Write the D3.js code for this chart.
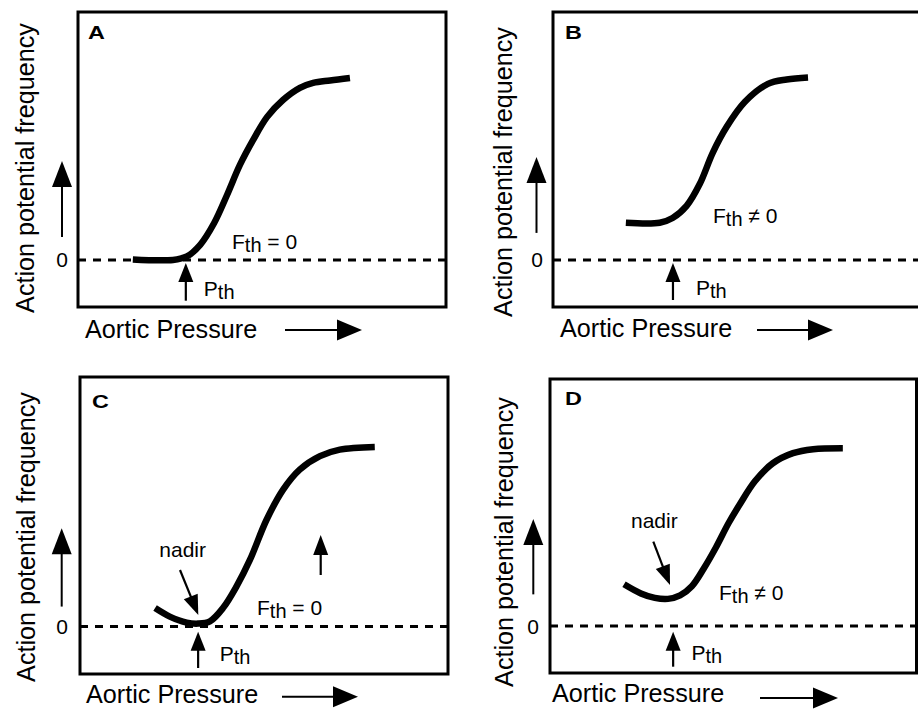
<!DOCTYPE html>
<html><head><meta charset="utf-8">
<script src="https://cdn.jsdelivr.net/npm/d3@7"></script>
<style>
html,body{margin:0;padding:0;background:#fff;}
svg{display:block;font-family:"Liberation Sans",Arial,Helvetica,sans-serif;}
</style></head><body>
<svg id="chart" width="918" height="709"></svg>
<script>
// Baroreceptor firing sketches: normalised aortic pressure (0-100) vs action potential frequency.
const panelLetters = ["A", "B", "C", "D"];

const pressureA  = [14.9, 25.8, 29.6, 33.2, 37.0, 40.5, 44.0, 47.6, 51.4, 55.7, 60.3, 63.9, 68.5, 73.9];
const frequencyA = [0.2, 0.0, 1.4, 6.1, 14.9, 26.2, 38.3, 48.4, 57.7, 64.5, 69.4, 71.4, 72.4, 73.4];

const pressureB  = [19.8, 29.0, 32.5, 36.3, 39.9, 43.4, 47.2, 52.1, 58.4, 63.5, 69.3];
const frequencyB = [15.0, 15.0, 16.9, 21.8, 30.7, 43.2, 53.7, 63.7, 71.0, 72.8, 73.6];

const pressureC  = [20.4, 24.4, 29.0, 32.1, 35.3, 38.9, 42.5, 46.2, 50.7, 55.2, 59.7, 65.2, 70.6, 80.1];
const frequencyC = [7.4, 4.0, 1.6, 1.2, 2.1, 7.5, 16.0, 26.8, 42.8, 54.9, 62.9, 68.3, 70.9, 72.0];

const pressureD  = [20.2, 24.8, 28.6, 32.2, 35.5, 38.7, 42.0, 45.3, 48.7, 51.8, 55.9, 60.8, 66.3, 71.8, 79.9];
const frequencyD = [16.9, 13.2, 11.4, 11.0, 12.4, 16.1, 23.4, 31.9, 41.6, 49.3, 58.6, 65.9, 70.0, 71.6, 72.0];

const thresholdPressure = [29.3, 32.6, 32.1, 33.6];
const thresholdFreqText = ["= 0", "\u2260 0", "= 0", "\u2260 0"];
const yTickLabels = ["0"];
const xAxisTitle = "Aortic Pressure";
const yAxisTitle = "Action potential frequency";
const nadirText = "nadir";

const xDomain = [0, 100];
const yDomain = [-19, 100];

const curves = [
  pressureA.map((p, i) => [p, frequencyA[i]]),
  pressureB.map((p, i) => [p, frequencyB[i]]),
  pressureC.map((p, i) => [p, frequencyC[i]]),
  pressureD.map((p, i) => [p, frequencyD[i]])
];

// Panel frames and annotation placement (pixels)
const layout = [
  { box: [78, 12, 368, 295], letter: [10, 27], ylab: [-44, 156], zero: -16, yArrow: [-16, -99, -23],
    xlab: [7, 31], xArrow: [207, 284, 23], fthPos: [154, 249],
    pth: [18, 296], pthArrow: [263, 300.7], nadir: null, extra: null },
  { box: [553, 12, 368, 295], letter: [12, 27], ylab: [-41, 160], zero: -16, yArrow: [-16.5, -103, -27],
    xlab: [7, 30], xArrow: [204, 280, 23], fthPos: [160, 223],
    pth: [23, 295], pthArrow: [263, 300], nadir: null, extra: null },
  { box: [80, 377, 368, 297], letter: [12, 31], ylab: [-45, 160], zero: -18, yArrow: [-18.3, -98.4, -20],
    xlab: [6, 29], xArrow: [202, 278, 22.7], fthPos: [177, 615],
    pth: [21.5, 661], pthArrow: [631.7, 668],
    nadir: { text: [159.3, 556.7], from: [180, 570], to: [198.3, 615] },
    extra: [320.7, 535, 575] },
  { box: [550, 379, 366.5, 294], letter: [15, 26], ylab: [-37, 163], zero: -17, yArrow: [-16.7, -107, -31.7],
    xlab: [2, 29], xArrow: [210, 288, 25], fthPos: [169, 600],
    pth: [18.4, 660], pthArrow: [631.7, 666.7],
    nadir: { text: [631, 528.3], from: [653.3, 541.7], to: [670, 585] },
    extra: null }
];

const svg = d3.select("#chart");

function arrow(g, x1, y1, x2, y2, headLen, headW, shaftW) {
  const dx = x2 - x1, dy = y2 - y1, L = Math.hypot(dx, dy);
  const ux = dx / L, uy = dy / L, px = -uy, py = ux;
  const bx = x2 - ux * headLen, by = y2 - uy * headLen;
  g.append("line")
    .attr("x1", x1).attr("y1", y1).attr("x2", bx + ux).attr("y2", by + uy)
    .attr("stroke", "#000").attr("stroke-width", shaftW);
  g.append("path")
    .attr("d", `M${x2},${y2}L${bx + px * headW / 2},${by + py * headW / 2}L${bx - px * headW / 2},${by - py * headW / 2}Z`)
    .attr("fill", "#000");
}

function subText(g, x, y, main, sub, rest) {
  const t = g.append("text").attr("x", x).attr("y", y)
    .attr("font-size", 21).attr("fill", "#000");
  t.append("tspan").text(main);
  t.append("tspan").attr("dy", 3).attr("font-size", 20).text(sub);
  if (rest) t.append("tspan").attr("dy", -3).text(rest);
}

layout.forEach((L, i) => {
  const [bx, by, bw, bh] = L.box;
  const x = d3.scaleLinear().domain(xDomain).range([bx, bx + bw]);
  const y = d3.scaleLinear().domain(yDomain).range([by + bh, by]);
  const g = svg.append("g");
  const y0 = y(0);

  // frame
  g.append("rect").attr("x", bx).attr("y", by).attr("width", bw).attr("height", bh)
    .attr("fill", "none").attr("stroke", "#000").attr("stroke-width", 3);

  // zero-frequency reference
  g.append("line").attr("x1", x(0)).attr("x2", x(100)).attr("y1", y0).attr("y2", y0)
    .attr("stroke", "#000").attr("stroke-width", 3).attr("stroke-dasharray", "8,7");

  g.append("text").attr("x", bx + L.zero).attr("y", y0).attr("dy", "0.36em")
    .attr("text-anchor", "middle").attr("font-size", 21).text(yTickLabels[0]);

  // response curve
  const line = d3.line().x(d => x(d[0])).y(d => y(d[1])).curve(d3.curveCatmullRom.alpha(0.5));
  g.append("path").datum(curves[i]).attr("d", line)
    .attr("fill", "none").attr("stroke", "#000").attr("stroke-width", 6.5)
    .attr("stroke-linecap", "butt").attr("stroke-linejoin", "round");

  // panel letter
  g.append("text")
    .attr("transform", `translate(${bx + L.letter[0]},${by + L.letter[1]}) scale(1.3,1)`)
    .attr("font-size", 18).attr("font-weight", "bold").text(panelLetters[i]);

  // axis titles
  g.append("text")
    .attr("transform", `translate(${bx + L.ylab[0]},${by + L.ylab[1]}) rotate(-90)`)
    .attr("text-anchor", "middle").attr("font-size", 25.2).text(yAxisTitle);
  g.append("text").attr("x", bx + L.xlab[0]).attr("y", by + bh + L.xlab[1])
    .attr("font-size", 25.2).text(xAxisTitle);

  // direction arrows
  const ya = L.yArrow;
  arrow(g, bx + ya[0], y0 + ya[2], bx + ya[0], y0 + ya[1], 26, 20, 2);
  const xa = L.xArrow;
  arrow(g, bx + xa[0], by + bh + xa[2], bx + xa[1], by + bh + xa[2], 25, 21, 2);

  // threshold pressure marker
  const px = x(thresholdPressure[i]);
  arrow(g, px, L.pthArrow[1], px, L.pthArrow[0], 19, 15, 2.2);
  subText(g, px + L.pth[0], L.pth[1], "P", "th", null);

  // threshold frequency annotation
  subText(g, bx + L.fthPos[0], L.fthPos[1], "F", "th", " " + thresholdFreqText[i]);

  if (L.nadir) {
    g.append("text").attr("x", L.nadir.text[0]).attr("y", L.nadir.text[1])
      .attr("font-size", 21).text(nadirText);
    arrow(g, L.nadir.from[0], L.nadir.from[1], L.nadir.to[0], L.nadir.to[1], 20, 15, 2.2);
  }
  if (L.extra) {
    arrow(g, L.extra[0], L.extra[2], L.extra[0], L.extra[1], 20, 15, 2.2);
  }
});
</script>
</body></html>
